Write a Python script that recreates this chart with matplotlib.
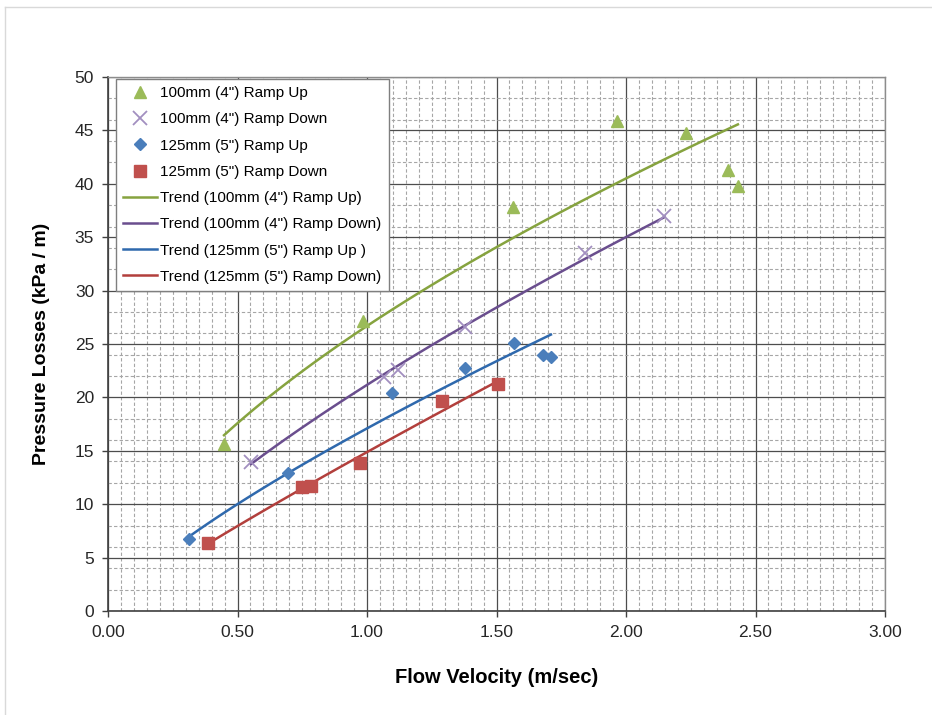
import numpy as np
import matplotlib
matplotlib.use('Agg')
import matplotlib.pyplot as plt
from matplotlib.ticker import MultipleLocator, FormatStrFormatter
from matplotlib.lines import Line2D

plt.rcParams['font.family'] = ['Liberation Sans', 'DejaVu Sans']

# 測定データ (流速 m/sec, 圧力損失 kPa/m)
up_100_x = [0.448, 0.985, 1.564, 1.965, 2.232, 2.394, 2.432]
up_100_y = [15.6, 27.2, 37.8, 45.9, 44.8, 41.3, 39.8]
down_100_x = [0.552, 1.066, 1.120, 1.378, 1.842, 2.147]
down_100_y = [13.95, 21.9, 22.6, 26.6, 33.5, 37.0]
up_125_x = [0.313, 0.695, 1.097, 1.378, 1.568, 1.680, 1.710]
up_125_y = [6.74, 12.9, 20.4, 22.75, 25.1, 24.0, 23.8]
down_125_x = [0.386, 0.749, 0.784, 0.973, 1.290, 1.506]
down_125_y = [6.37, 11.6, 11.7, 13.9, 19.7, 21.3]

x_ticks = [0.0, 0.5, 1.0, 1.5, 2.0, 2.5, 3.0]
y_ticks = [0, 5, 10, 15, 20, 25, 30, 35, 40, 45, 50]


def power_trend(x, y, n=100):
    # Excelの累乗近似と同じく log-log で最小二乗
    b, ln_a = np.polyfit(np.log(x), np.log(y), 1)
    xs = np.linspace(min(x), max(x), n)
    return xs, np.exp(ln_a) * xs ** b


fig = plt.figure(figsize=(9.32, 7.15), dpi=100)
ax = fig.add_axes([108 / 932, 1 - 611 / 715, (885 - 108) / 932, (611 - 77) / 715])

# 外枠（薄いグレー）
fig.add_artist(Line2D([5 / 932, 5 / 932], [0, 1 - 7 / 715], transform=fig.transFigure,
                      color='#D9D9D9', linewidth=1))
fig.add_artist(Line2D([5 / 932, 1], [1 - 7 / 715, 1 - 7 / 715], transform=fig.transFigure,
                      color='#D9D9D9', linewidth=1))

# 散布図
ax.plot(up_100_x, up_100_y, linestyle='none', marker='^', markersize=9,
        color='#9BBB59', label='100mm (4") Ramp Up', zorder=4)
ax.plot(down_100_x, down_100_y, linestyle='none', marker='x', markersize=10,
        markeredgewidth=1.3, color='#A28FC0', label='100mm (4") Ramp Down', zorder=4)
ax.plot(up_125_x, up_125_y, linestyle='none', marker='D', markersize=6.5,
        color='#4A7EBB', label='125mm (5") Ramp Up', zorder=4)
ax.plot(down_125_x, down_125_y, linestyle='none', marker='s', markersize=8.5,
        color='#C0504D', label='125mm (5") Ramp Down', zorder=4)

# 近似曲線
for xs, ys, color, label in [
    (up_100_x, up_100_y, '#86A33F', 'Trend (100mm (4") Ramp Up)'),
    (down_100_x, down_100_y, '#6A4E8E', 'Trend (100mm (4") Ramp Down)'),
    (up_125_x, up_125_y, '#2F69AD', 'Trend (125mm (5") Ramp Up )'),
    (down_125_x, down_125_y, '#B23F3C', 'Trend (125mm (5") Ramp Down)'),
]:
    tx, ty = power_trend(xs, ys)
    ax.plot(tx, ty, color=color, linewidth=1.8, label=label, zorder=3)

ax.set_xlim(0, 3.0)
ax.set_ylim(0, 50)
ax.set_xticks(x_ticks)
ax.set_yticks(y_ticks)
ax.xaxis.set_major_formatter(FormatStrFormatter('%.2f'))
ax.xaxis.set_minor_locator(MultipleLocator(0.05))
ax.yaxis.set_minor_locator(MultipleLocator(2))

ax.grid(True, which='major', color='#4D4D4D', linewidth=0.9, zorder=1)
ax.grid(True, which='minor', color='#A6A6A6', linewidth=0.8, linestyle=(0, (3, 2)), zorder=0)
ax.set_axisbelow(True)

ax.tick_params(axis='both', which='major', direction='out', length=4, width=1,
               color='#404040', labelsize=12.5, labelcolor='#262626', pad=6)
ax.tick_params(axis='both', which='minor', length=0)
for side in ['left', 'bottom']:
    ax.spines[side].set_color('#404040')
    ax.spines[side].set_linewidth(1.2)
for side in ['top', 'right']:
    ax.spines[side].set_color('#8C8C8C')
    ax.spines[side].set_linewidth(1.0)

ax.set_xlabel('Flow Velocity (m/sec)', fontsize=14.5, fontweight='bold', labelpad=20)
ax.set_ylabel('Pressure Losses (kPa / m)', fontsize=14, fontweight='bold', labelpad=18)

leg = ax.legend(loc='upper left', bbox_to_anchor=(0.01, 0.997), borderaxespad=0,
                fontsize=11, frameon=True, fancybox=False, handlelength=2.2,
                handletextpad=0.2, labelspacing=0.8, borderpad=0.5)
leg.get_frame().set_edgecolor('#7F7F7F')
leg.get_frame().set_linewidth(1.0)
leg.get_frame().set_facecolor('white')
leg.get_frame().set_alpha(1)

plt.savefig('out.png', dpi=100)
